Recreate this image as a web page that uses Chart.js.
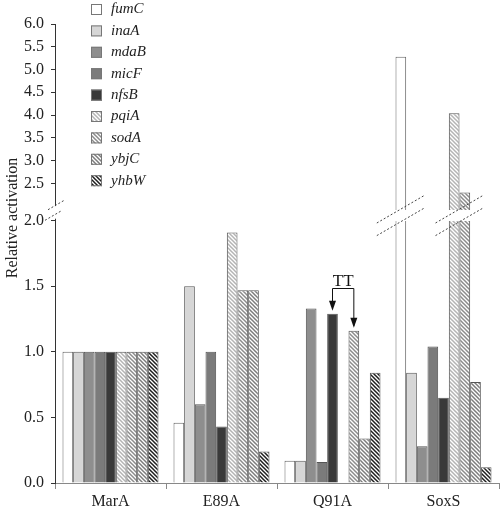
<!DOCTYPE html>
<html>
<head>
<meta charset="utf-8">
<script src="https://cdn.jsdelivr.net/npm/chart.js@4.4.1/dist/chart.umd.min.js"></script>
<style>
    html, body { margin: 0; padding: 0; background: #fff; }
    #wrap { width: 500px; height: 508px; }
</style>
</head>
<body>
<div id="wrap"><canvas id="activationChart"></canvas></div>
<script>
// Categories (x axis) and gene series
const categories = ['MarA', 'E89A', 'Q91A', 'SoxS'];
const genes = ['fumC', 'inaA', 'mdaB', 'micF', 'nfsB', 'pqiA', 'sodA', 'ybjC', 'yhbW'];

const fumC = [1.00, 0.46, 0.17, 5.28];
const inaA = [1.00, 1.50, 0.17, 0.84];
const mdaB = [1.00, 0.60, 1.33, 0.28];
const micF = [1.00, 1.00, 0.16, 1.04];
const nfsB = [1.00, 0.43, 1.29, 0.65];
const pqiA = [1.00, 1.91, null, 4.04];
const sodA = [1.00, 1.47, 1.16, 2.30];
const ybjC = [1.00, 1.47, 0.34, 0.77];
const yhbW = [1.00, 0.24, 0.84, 0.12];

// Broken y axis: 0..2 below the break, 2..6 above it
const lowerTicks = [0, 0.5, 1.0, 1.5, 2.0];
const upperTicks = [2.5, 3.0, 3.5, 4.0, 4.5, 5.0, 5.5, 6.0];
const breakValue = 2.0;

// "TT" bracket annotation
const ttLabel = 'TT';
const ttCategory = 'Q91A';
const ttGenes = ['nfsB', 'sodA'];

const seriesValues = { fumC, inaA, mdaB, micF, nfsB, pqiA, sodA, ybjC, yhbW };

const serifFont = "'Liberation Serif', 'Times New Roman', serif";

function hatch(stripeColor, lineWidth) {
    const size = 4;
    const c = document.createElement('canvas');
    c.width = size;
    c.height = size;
    const g = c.getContext('2d');
    g.fillStyle = '#ffffff';
    g.fillRect(0, 0, size, size);
    g.strokeStyle = stripeColor;
    g.lineWidth = lineWidth;
    g.beginPath();
    for (let k = -1; k <= 1; k++) {
        g.moveTo(-1, k * size - 1);
        g.lineTo(size + 1, k * size + size + 1);
    }
    g.stroke();
    return g.createPattern(c, 'repeat');
}

const geneFill = {
    fumC: '#ffffff',
    inaA: '#d6d6d6',
    mdaB: '#8e8e8e',
    micF: '#7b7b7b',
    nfsB: '#3a3a3a',
    pqiA: hatch('#b4b4b4', 1.5),
    sodA: hatch('#8c8c8c', 1.5),
    ybjC: hatch('#7c7c7c', 1.5),
    yhbW: hatch('#1e1e1e', 1.5)
};

// Linear scale with a gap between the lower and upper ranges
class BrokenLinearScale extends Chart.LinearScale {
    _parts() {
        const h = this.bottom - this.top;
        const low = h * 0.5715;
        const gap = h * 0.0318;
        return { low, gap, up: h - low - gap };
    }
    getPixelForValue(value) {
        const p = this._parts();
        if (value <= breakValue) {
            return this.bottom - (value - this.min) / (breakValue - this.min) * p.low;
        }
        return this.bottom - p.low - p.gap - (value - breakValue) / (this.max - breakValue) * p.up;
    }
    getValueForPixel(pixel) {
        const p = this._parts();
        const d = this.bottom - pixel;
        if (d <= p.low) return this.min + d / p.low * (breakValue - this.min);
        return breakValue + (d - p.low - p.gap) / p.up * (this.max - breakValue);
    }
}
BrokenLinearScale.id = 'brokenLinear';
BrokenLinearScale.defaults = Chart.LinearScale.defaults;
Chart.register(BrokenLinearScale);

const breakPlugin = {
    id: 'breakPlugin',
    afterDatasetsDraw(chart) {
        const ctx = chart.ctx;
        const area = chart.chartArea;
        const y = chart.scales.y;
        const yTop = y.getPixelForValue(breakValue + 1e-9);
        const yBot = y.getPixelForValue(breakValue);

        ctx.save();
        // white band through the broken bars and the axis
        ctx.fillStyle = '#ffffff';
        ctx.fillRect(area.left + 1, Math.round(yTop + 4), area.right - area.left, Math.round(yBot - yTop - 4));
        ctx.fillRect(area.left - 3, yTop, 6, yBot - yTop - 2);

        ctx.strokeStyle = '#444';
        ctx.lineWidth = 1;
        ctx.setLineDash([2, 2]);
        const slash = (cx, cy, half) => {
            ctx.beginPath();
            ctx.moveTo(cx - half, cy + half * 0.58);
            ctx.lineTo(cx + half, cy - half * 0.58);
            ctx.stroke();
        };
        // axis break marks
        slash(area.left + 1, yTop - 1, 8);
        slash(area.left - 2, yBot - 5, 8);

        // bar break marks, one pair per run of adjacent broken bars
        categories.forEach((cat, j) => {
            let run = [];
            const flush = () => {
                if (!run.length) return;
                const cx = (run[0] + run[run.length - 1]) / 2;
                slash(cx, yTop + 3, 24);
                slash(cx, yBot + 1, 24);
                run = [];
            };
            genes.forEach((g, i) => {
                const v = seriesValues[g][j];
                if (v != null && v > breakValue) {
                    run.push(chart.getDatasetMeta(i).data[j].x);
                } else {
                    flush();
                }
            });
            flush();
        });
        ctx.setLineDash([]);

        // TT bracket with arrows
        const j = categories.indexOf(ttCategory);
        const bars = ttGenes.map(g => chart.getDatasetMeta(genes.indexOf(g)).data[j]);
        const bracketY = Math.round(Math.min(...bars.map(b => b.y)) - 26) + 0.5;
        ctx.strokeStyle = '#111';
        ctx.fillStyle = '#111';
        ctx.lineWidth = 1;
        ctx.beginPath();
        ctx.moveTo(bars[0].x, bars[0].y - 5);
        ctx.lineTo(bars[0].x, bracketY);
        ctx.lineTo(bars[1].x, bracketY);
        ctx.lineTo(bars[1].x, bars[1].y - 5);
        ctx.stroke();
        bars.forEach(b => {
            ctx.beginPath();
            ctx.moveTo(b.x, b.y - 3);
            ctx.lineTo(b.x - 3.5, b.y - 13);
            ctx.lineTo(b.x + 3.5, b.y - 13);
            ctx.closePath();
            ctx.fill();
        });
        ctx.font = '17px ' + serifFont;
        ctx.textAlign = 'center';
        ctx.textBaseline = 'alphabetic';
        ctx.fillText(ttLabel, (bars[0].x + bars[1].x) / 2, bracketY - 3);
        ctx.restore();
    },
    afterDraw(chart) {
        const ctx = chart.ctx;
        ctx.save();
        // legend in one column
        ctx.font = 'italic 15px ' + serifFont;
        ctx.textBaseline = 'middle';
        ctx.textAlign = 'left';
        genes.forEach((g, i) => {
            const cy = 9.5 + i * 21.4;
            ctx.fillStyle = geneFill[g];
            ctx.fillRect(91, cy - 5.5, 11, 11);
            ctx.strokeStyle = '#777';
            ctx.lineWidth = 1;
            ctx.strokeRect(91.5, cy - 5, 10, 10);
            ctx.fillStyle = '#222';
            ctx.fillText(g, 111, cy);
        });
        // y axis title
        ctx.translate(13, 218);
        ctx.rotate(-Math.PI / 2);
        ctx.font = '16px ' + serifFont;
        ctx.textAlign = 'center';
        ctx.fillStyle = '#222';
        ctx.fillText('Relative activation', 0, 0);
        ctx.restore();
    }
};

document.addEventListener('DOMContentLoaded', function () {
    const canvas = document.getElementById('activationChart');

    new Chart(canvas, {
        type: 'bar',
        data: {
            labels: categories,
            datasets: genes.map(g => ({
                label: g,
                data: seriesValues[g],
                backgroundColor: geneFill[g],
                borderColor: g === 'fumC' ? '#666' : '#555',
                borderWidth: 1
            }))
        },
        options: {
            responsive: true,
            maintainAspectRatio: false,
            animation: false,
            layout: { padding: { top: 24, right: 1, left: 0, bottom: 0 } },
            datasets: {
                bar: { categoryPercentage: 0.865, barPercentage: 1.0 }
            },
            scales: {
                x: {
                    offset: true,
                    grid: { drawOnChartArea: false, tickLength: 6, color: '#888' },
                    border: { color: '#888' },
                    ticks: {
                        color: '#222',
                        padding: 3,
                        font: { family: serifFont, size: 16 }
                    },
                    afterFit: scale => { scale.height = 25; }
                },
                y: {
                    type: 'brokenLinear',
                    min: 0,
                    max: 6,
                    grid: { drawOnChartArea: false, tickLength: 4, color: '#333' },
                    border: { color: '#333' },
                    ticks: {
                        color: '#222',
                        padding: 7,
                        autoSkip: false,
                        font: { family: serifFont, size: 16 },
                        callback: v => Number(v).toFixed(1)
                    },
                    afterBuildTicks: scale => {
                        scale.ticks = lowerTicks.concat(upperTicks).map(v => ({ value: v }));
                    },
                    afterFit: scale => { scale.width = 55; }
                }
            },
            plugins: {
                legend: { display: false },
                tooltip: { enabled: false }
            }
        },
        plugins: [breakPlugin]
    });
});
</script>
</body>
</html>
